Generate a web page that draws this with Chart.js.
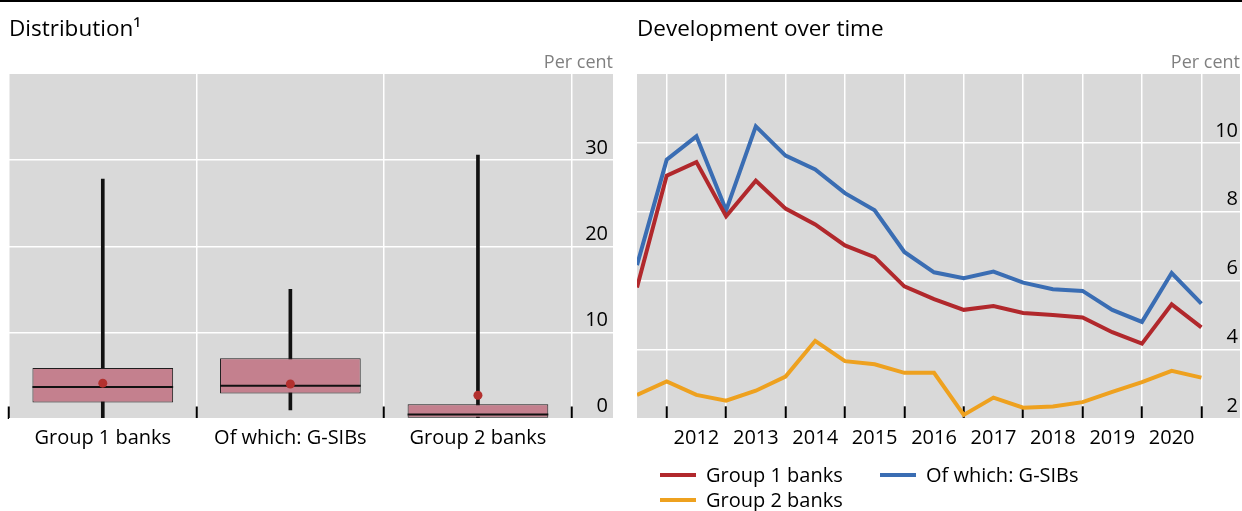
<!DOCTYPE html>
<html>
<head>
<meta charset="utf-8">
<script src="https://cdn.jsdelivr.net/npm/chart.js@4"></script>
<style>
  html, body { margin: 0; padding: 0; background: #fff; }
  body { width: 1242px; height: 511px; position: relative; overflow: hidden; font-family: "Open Sans", sans-serif; }
  #rule { position: absolute; left: 0; top: 0; width: 1242px; height: 2px; background: #000; }
  #left { position: absolute; left: 0; top: 0; width: 620px; height: 511px; }
  #right { position: absolute; left: 620px; top: 0; width: 622px; height: 511px; }
  #legend { position: absolute; left: 660px; top: 462px; display: grid; grid-template-columns: 220px 220px; }
  .item { display: flex; align-items: center; height: 25px; font-size: 20px; color: #000; white-space: nowrap; }
  .swatch { width: 36px; height: 4px; margin-right: 10px; }
</style>
</head>
<body>
<div id="rule"></div>
<div id="left"><canvas id="dist" width="620" height="511"></canvas></div>
<div id="right"><canvas id="dev" width="622" height="511"></canvas></div>
<div id="legend"></div>
<script>
// Distribution panel: box plots per bank group (per cent)
const boxCategories = ['Group 1 banks', 'Of which: G-SIBs', 'Group 2 banks'];
const boxMin    = [0, 1.0, 0];
const boxQ1     = [1.85, 2.9, 0];
const boxMedian = [3.55, 3.7, 0.35];
const boxQ3     = [5.85, 7.0, 1.65];
const boxMax    = [27.8, 15.0, 30.6];
const boxMean   = [4.1, 4.0, 2.7];
const distTicks = [0, 10, 20, 30];

// Development panel: half-yearly observations (per cent)
const periodEnds = ['2011-06', '2011-12', '2012-06', '2012-12', '2013-06', '2013-12', '2014-06', '2014-12',
                    '2015-06', '2015-12', '2016-06', '2016-12', '2017-06', '2017-12', '2018-06', '2018-12',
                    '2019-06', '2019-12', '2020-06', '2020-12'];
const group1 = [5.8, 9.05, 9.44, 7.87, 8.9, 8.09, 7.63, 7.02, 6.68, 5.83, 5.46, 5.15, 5.26, 5.06, 5.0, 4.93, 4.5, 4.17, 5.31, 4.64];
const gsibs  = [6.45, 9.51, 10.19, 8.04, 10.48, 9.63, 9.23, 8.54, 8.04, 6.83, 6.24, 6.07, 6.26, 5.94, 5.75, 5.70, 5.15, 4.80, 6.22, 5.33];
const group2 = [2.68, 3.07, 2.68, 2.51, 2.80, 3.21, 4.25, 3.66, 3.57, 3.32, 3.32, 2.10, 2.60, 2.31, 2.34, 2.47, 2.77, 3.05, 3.38, 3.18];
const yearLabels = ['2012', '2013', '2014', '2015', '2016', '2017', '2018', '2019', '2020'];
const devTicks = [2, 4, 6, 8, 10];

const FONT = '"Open Sans", sans-serif';
Chart.defaults.font.family = FONT;
Chart.defaults.color = '#000';

const GRID = '#ffffff';
const PLOT_BG = '#d9d9d9';

// fills the plotting area in grey before anything else is drawn
const plotBackground = {
  id: 'plotBackground',
  beforeDraw(chart, args, opts) {
    const { ctx, chartArea: a } = chart;
    ctx.save();
    ctx.fillStyle = opts.color;
    ctx.fillRect(a.left, a.top, a.right - a.left, a.bottom - a.top);
    ctx.restore();
  }
};

function titleOpts(text) {
  return { display: true, text, align: 'start', color: '#000', font: { size: 22.5, weight: 'normal' }, padding: { top: 16.5, bottom: 0 } };
}
function unitOpts() {
  return { display: true, text: 'Per cent', align: 'end', color: '#808080', font: { size: 18, weight: 'normal' }, padding: { top: 8.7, bottom: 0.2 } };
}
// value axis on the right, labels sitting inside the plot just above each grid line
function valueAxis(min, max, list, inset) {
  return {
    type: 'linear', position: 'right', min, max,
    afterBuildTicks: s => { s.ticks = list.map(v => ({ value: v })); },
    afterFit: s => { s.width = 0; },
    ticks: { mirror: true, padding: -inset, labelOffset: -12, font: { size: 20 }, color: '#000' },
    grid: { color: GRID, lineWidth: 1.5, drawTicks: false },
    border: { display: false }
  };
}

const boxWidth = { grouped: false, barPercentage: 0.75, categoryPercentage: 1 };

new Chart(document.getElementById('dist'), {
  type: 'bar',
  data: {
    datasets: [
      { type: 'scatter', label: 'Mean', data: boxMean.map((v, i) => ({ x: i, y: v })),
        pointRadius: 4.5, pointBackgroundColor: '#b3302e', pointBorderWidth: 0 },
      { label: 'Median', data: boxMedian.map((v, i) => ({ x: i, y: [v, v] })),
        backgroundColor: '#111', borderWidth: 0, minBarLength: 2, ...boxWidth },
      { label: 'Interquartile range', data: boxQ1.map((v, i) => ({ x: i, y: [v, boxQ3[i]] })),
        backgroundColor: '#c4808e', borderColor: '#1e1e1e', borderWidth: 1, borderSkipped: false, ...boxWidth },
      { label: 'Range', data: boxMin.map((v, i) => ({ x: i, y: [v, boxMax[i]] })),
        backgroundColor: '#111', borderWidth: 0, barThickness: 3, grouped: false }
    ]
  },
  options: {
    responsive: false, animation: false,
    layout: { padding: { left: 9, right: 7, top: 0, bottom: 0 } },
    plugins: {
      legend: { display: false }, tooltip: { enabled: false },
      title: titleOpts('Distribution¹'),
      subtitle: unitOpts(),
      plotBackground: { color: PLOT_BG }
    },
    scales: {
      x: {
        type: 'linear', min: -0.5, max: 2.72, offset: false,
        afterBuildTicks: s => { s.ticks = boxCategories.map((_, i) => ({ value: i })); },
        afterFit: s => { s.height = 92.5; },
        ticks: { callback: v => boxCategories[v], autoSkip: false, maxRotation: 0, padding: 20, font: { size: 20 }, color: '#000' },
        grid: { offset: true, color: GRID, lineWidth: 1.5, drawTicks: true, tickLength: -12, tickColor: '#000', tickWidth: 2 },
        border: { display: false }
      },
      y: valueAxis(0, 40, distTicks, 5)
    }
  },
  plugins: [plotBackground]
});

const toYear = p => { const [y, m] = p.split('-').map(Number); return y + m / 12; };
const toPoints = arr => arr.map((v, i) => ({ x: toYear(periodEnds[i]), y: v }));

const devChart = new Chart(document.getElementById('dev'), {
  type: 'line',
  data: {
    datasets: [
      { label: 'Group 1 banks', data: toPoints(group1), borderColor: '#b1282c', backgroundColor: '#b1282c' },
      { label: 'Of which: G-SIBs', data: toPoints(gsibs), borderColor: '#3a6db3', backgroundColor: '#3a6db3' },
      { label: 'Group 2 banks', data: toPoints(group2), borderColor: '#eea11f', backgroundColor: '#eea11f' }
    ]
  },
  options: {
    responsive: false, animation: false,
    elements: { line: { borderWidth: 4, tension: 0 }, point: { radius: 0 } },
    layout: { padding: { left: 17, right: 2, top: 0, bottom: 0 } },
    plugins: {
      legend: { display: false }, tooltip: { enabled: false },
      title: titleOpts('Development over time'),
      subtitle: unitOpts(),
      plotBackground: { color: PLOT_BG }
    },
    scales: {
      x: {
        type: 'linear', min: 2011.5, max: 2021.65, offset: false,
        afterBuildTicks: s => { s.ticks = yearLabels.map(y => ({ value: Number(y) + 0.5 })); },
        afterFit: s => { s.height = 92.7; },
        ticks: { callback: (v, i) => yearLabels[i], autoSkip: false, maxRotation: 0, padding: 20, font: { size: 20 }, color: '#000' },
        grid: { offset: true, color: GRID, lineWidth: 1.5, drawTicks: true, tickLength: -12, tickColor: '#000', tickWidth: 2 },
        border: { display: false }
      },
      y: valueAxis(2, 12, devTicks, 2)
    }
  },
  plugins: [plotBackground]
});

// legend rendered as HTML from the chart's own legend items
const legendEl = document.getElementById('legend');
Chart.defaults.plugins.legend.labels.generateLabels(devChart).forEach(item => {
  const row = document.createElement('div');
  row.className = 'item';
  const sw = document.createElement('span');
  sw.className = 'swatch';
  sw.style.background = item.strokeStyle;
  row.appendChild(sw);
  row.appendChild(document.createTextNode(item.text));
  legendEl.appendChild(row);
});
</script>
</body>
</html>
